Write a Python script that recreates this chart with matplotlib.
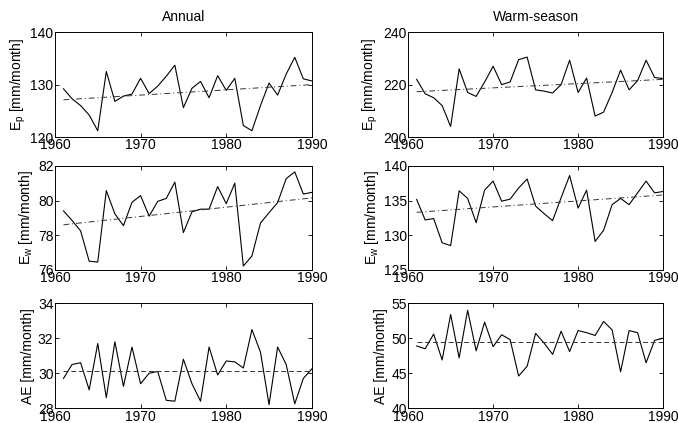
import numpy as np
import matplotlib
matplotlib.use("Agg")
import matplotlib.pyplot as plt

plt.rcParams['font.family'] = ['Liberation Sans', 'DejaVu Sans']
plt.rcParams['mathtext.fontset'] = 'custom'
plt.rcParams['mathtext.rm'] = 'Liberation Sans'
plt.rcParams['mathtext.it'] = 'Liberation Sans'

years = list(range(1961, 1991))

# annual
ep_annual = [129.2, 127.3, 126.0, 124.2, 121.2, 132.5, 126.8, 127.8, 128.2, 131.2,
             128.3, 129.7, 131.6, 133.7, 125.6, 129.3, 130.6, 127.5, 131.7, 128.9,
             131.2, 122.2, 121.2, 126.0, 130.3, 128.0, 132.0, 135.2, 131.1, 130.7]
ew_annual = [79.4, 78.85, 78.25, 76.5, 76.45, 80.57, 79.23, 78.55, 79.9, 80.28,
             79.1, 79.95, 80.12, 81.06, 78.15, 79.35, 79.5, 79.5, 80.8, 79.82,
             81.0, 76.22, 76.8, 78.7, 79.3, 79.88, 81.26, 81.65, 80.37, 80.47]
ae_annual = [29.7, 30.5, 30.6, 29.05, 31.7, 28.6, 31.8, 29.25, 31.5, 29.4,
             30.0, 30.1, 28.45, 28.4, 30.8, 29.4, 28.4, 31.5, 29.9, 30.7,
             30.65, 30.3, 32.5, 31.2, 28.2, 31.5, 30.5, 28.25, 29.7, 30.25]

# warm season
ep_warm = [222.0, 216.5, 215.0, 212.0, 204.0, 226.0, 217.0, 215.5, 221.0, 227.0,
           220.0, 221.0, 229.5, 230.5, 218.0, 217.5, 216.8, 220.0, 229.3, 217.0,
           222.5, 208.0, 209.5, 217.0, 225.5, 218.0, 221.5, 229.3, 222.7, 222.3]
ew_warm = [135.15, 132.2, 132.4, 128.9, 128.5, 136.4, 135.3, 131.8, 136.5, 137.8,
           134.9, 135.2, 136.8, 138.1, 134.2, 133.1, 132.1, 135.4, 138.6, 133.9,
           136.5, 129.1, 130.7, 134.4, 135.3, 134.4, 136.1, 137.8, 136.1, 136.3]
ae_warm = [48.9, 48.5, 50.6, 46.9, 53.4, 47.2, 54.0, 48.2, 52.3, 48.8,
           50.5, 49.8, 44.6, 46.0, 50.7, 49.3, 47.7, 51.0, 48.1, 51.1,
           50.8, 50.4, 52.4, 51.2, 45.2, 51.1, 50.8, 46.5, 49.7, 50.0]

# trend / mean line end values (1961, 1990)
ep_annual_trend = [127.1, 130.0]
ew_annual_trend = [78.6, 80.15]
ae_annual_trend = [30.15, 30.15]
ep_warm_trend = [217.3, 222.0]
ew_warm_trend = [133.3, 135.8]
ae_warm_trend = [49.5, 49.5]

ylabels = [r'E$_\mathregular{p}$ [mm/month]', r'E$_\mathregular{w}$ [mm/month]', 'AE [mm/month]']

panels = [
    # (row, col, series, trend, ylim, yticks, trend style)
    (0, 0, ep_annual, ep_annual_trend, (120, 140), [120, 130, 140], (0, (6, 3, 1, 3))),
    (1, 0, ew_annual, ew_annual_trend, (76, 82), [76, 78, 80, 82], (0, (6, 3, 1, 3))),
    (2, 0, ae_annual, ae_annual_trend, (28, 34), [28, 30, 32, 34], (0, (5, 3))),
    (0, 1, ep_warm, ep_warm_trend, (200, 240), [200, 220, 240], (0, (6, 3, 1, 3))),
    (1, 1, ew_warm, ew_warm_trend, (125, 140), [125, 130, 135, 140], (0, (6, 3, 1, 3))),
    (2, 1, ae_warm, ae_warm_trend, (40, 55), [40, 45, 50, 55], (0, (5, 3))),
]

fig = plt.figure(figsize=(6.78, 4.23), dpi=100)

lefts = [0.081, 0.602]
widths = [0.379, 0.376]
bottoms = [0.676, 0.362, 0.035]
heights = [0.248, 0.246, 0.248]

for row, col, vals, trend, ylim, yticks, ls in panels:
    ax = fig.add_axes([lefts[col], bottoms[row], widths[col], heights[row]])
    ax.plot(years, vals, color='black', lw=0.8)
    ax.plot([years[0], years[-1]], trend, color='#333333', lw=0.7, linestyle=ls)
    ax.set_xlim(1960, 1990)
    ax.set_ylim(*ylim)
    ax.set_xticks([1960, 1970, 1980, 1990])
    ax.set_yticks(yticks)
    ax.tick_params(direction='in', length=3, width=0.6, labelsize=10,
                   top=True, right=True, pad=1)
    for s in ax.spines.values():
        s.set_linewidth(0.7)
    ax.set_ylabel(ylabels[row], fontsize=10, labelpad=2)
    if row == 0:
        ax.set_title('Annual' if col == 0 else 'Warm-season', fontsize=10, pad=8)

fig.savefig('out.png', dpi=100)
